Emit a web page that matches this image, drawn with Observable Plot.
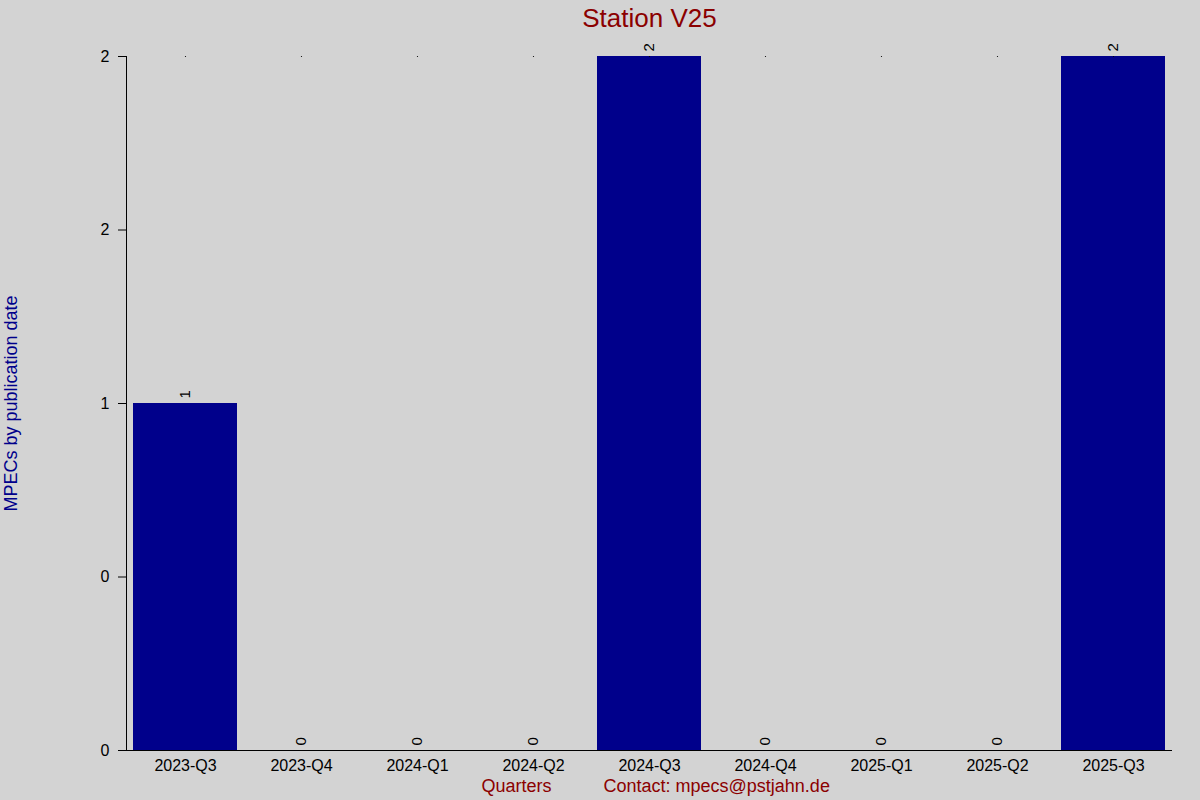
<!DOCTYPE html>
<html>
<head>
<meta charset="utf-8">
<script src="https://cdn.jsdelivr.net/npm/d3@7"></script>
<script src="https://cdn.jsdelivr.net/npm/@observablehq/plot@0.6"></script>
<style>
  html, body { margin: 0; padding: 0; background: #d3d3d3; }
  #chart svg { display: block; }
</style>
</head>
<body>
<div id="chart"></div>
<script>
const quarters = ["2023-Q3","2023-Q4","2024-Q1","2024-Q2","2024-Q3","2024-Q4","2025-Q1","2025-Q2","2025-Q3"];
const counts = [1, 0, 0, 0, 2, 0, 0, 0, 2];
const yTicks = [0, 0.5, 1, 1.5, 2];
const yTickLabels = ["0", "0", "1", "2", "2"];
const titleText = "Station V25";
const yLabel = "MPECs by publication date";
const xLabel = "Quarters";
const contactText = "Contact: mpecs@pstjahn.de";

const data = quarters.map((q, i) => ({quarter: q, count: counts[i]}));
const font = "'Liberation Sans', Arial, sans-serif";

const plot = Plot.plot({
  width: 1200,
  height: 800,
  marginLeft: 126,
  marginRight: 28,
  marginTop: 56,
  marginBottom: 50,
  style: {background: "#d3d3d3", fontFamily: font, fontSize: "16px", color: "black"},
  x: {domain: quarters, paddingInner: 0.1, paddingOuter: 0.05, label: null},
  y: {domain: [0, 2], label: null},
  marks: [
    Plot.barY(data, {x: "quarter", y: "count", fill: "#00008b"}),
    Plot.dot(quarters, {x: d => d, y: () => 2, r: 0.6, fill: "black", stroke: null}),
    Plot.text(data, {x: "quarter", y: "count", text: d => String(d.count), rotate: -90, textAnchor: "start", dy: -5, fontSize: 15, fill: "black"}),
    Plot.axisY({ticks: yTicks, tickFormat: (d, i) => yTickLabels[i], tickSize: 8, tickPadding: 9, fontSize: 16, label: null, stroke: "black"}),
    Plot.axisX({tickSize: 0, tickPadding: 9, fontSize: 16, label: null}),
    Plot.frame({anchor: "left", stroke: "black"}),
    Plot.ruleY([0], {stroke: "black"}),
    Plot.text([titleText], {frameAnchor: "top", dy: -38, lineAnchor: "middle", fontSize: 26, fill: "#8b0000", text: d => d}),
    Plot.text([yLabel], {frameAnchor: "left", dx: -115, rotate: -90, textAnchor: "middle", fontSize: 18, fill: "#00008b", text: d => d}),
    Plot.text([xLabel], {frameAnchor: "bottom-left", dx: 390, dy: 36, lineAnchor: "middle", fontSize: 18, fill: "#8b0000", textAnchor: "middle", text: d => d}),
    Plot.text([contactText], {frameAnchor: "bottom-left", dx: 477, dy: 36, lineAnchor: "middle", fontSize: 18, fill: "#8b0000", textAnchor: "start", text: d => d})
  ]
});
document.getElementById("chart").appendChild(plot);
</script>
</body>
</html>
